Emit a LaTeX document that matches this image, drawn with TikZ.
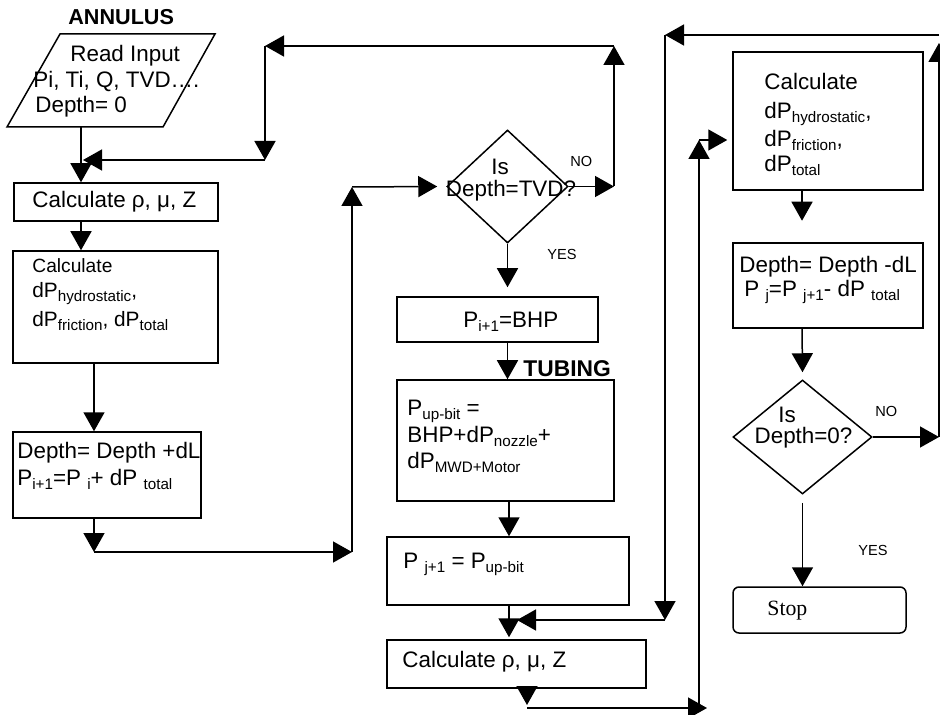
\documentclass[tikz,border=0pt]{standalone}
\usepackage{fontspec}
\setmainfont{Liberation Sans}
\newfontfamily\serifstop{Liberation Serif}
\usetikzlibrary{arrows.meta,shapes.geometric}
\newcommand\sbs[1]{\raisebox{-2pt}{\fontsize{7.6}{9}\selectfont #1}}
\begin{document}
\begin{tikzpicture}[x=0.5pt,y=-0.5pt,
  lw/.style={line width=0.75pt},
  box/.style={draw,lw,rectangle,inner sep=0pt},
  dia/.style={draw,lw,diamond,inner sep=0pt},
  arr/.style={lw,-{Triangle[width=10.5pt,length=9.5pt]}},
  txt/.style={inner sep=0pt,anchor=base west,font=\fontsize{11.2}{13.4}\selectfont},
  ctxt/.style={txt,anchor=base},
  lbl/.style={inner sep=0pt,anchor=base west,font=\fontsize{7.3}{9}\selectfont},
  hdr/.style={inner sep=0pt,anchor=base west,font=\bfseries\fontsize{10.8}{13}\selectfont}]
\useasboundingbox (0,0) rectangle (940,715);

% ---------- left column (annulus) ----------
\node[hdr] (annulus) at (68,25) {ANNULUS};
\coordinate (pa) at (60,34);
\coordinate (pb) at (215,34);
\coordinate (pc) at (163,127);
\coordinate (pd) at (7,127);
\draw[lw] (pa) -- (pb) -- (pc) -- (pd) -- cycle;
\coordinate (parb) at (81,127);
\node[txt] (in1) at (70,62) {Read Input};
\node[txt] (in2) at (33,88) {Pi, Ti, Q, TVD….};
\node[txt] (in3) at (35,113) {Depth= 0};

\node[box,minimum width=102pt,minimum height=19pt] (c1) at (116,202) {};
\node[txt] (c1t) at (32,208) {Calculate ρ, μ, Z};

\node[box,minimum width=102.5pt,minimum height=56pt] (c2) at (115.5,307) {};
\node[txt,font=\fontsize{9.6}{12}\selectfont] (c2a) at (32,273) {Calculate};
\node[txt,font=\fontsize{10.4}{12}\selectfont] (c2b) at (32,298) {dP\sbs{hydrostatic},};
\node[txt,font=\fontsize{10.4}{12}\selectfont] (c2c) at (32,327) {dP\sbs{friction}, dP\sbs{total}};

\node[box,minimum width=94pt,minimum height=43pt] (d1) at (107,475) {};
\node[txt] (d1a) at (17,458) {Depth= Depth +dL};
\node[txt] (d1b) at (17,485) {P\sbs{i+1}=P \sbs{i}+ dP \sbs{total}};

% ---------- middle column ----------
\node[dia,minimum width=60.5pt,minimum height=56.5pt] (q1) at (507.5,186.5) {};
\node[ctxt] (q1a) at (500,175) {Is};
\node[ctxt] (q1b) at (511,197) {Depth=TVD?};
\node[lbl] (no1) at (570,167) {NO};
\node[lbl] (yes1) at (547,260) {YES};

\node[box,minimum width=100.5pt,minimum height=22.5pt] (e1) at (497.5,319.5) {};
\node[txt] (e1t) at (463,328) {P\sbs{i+1}=BHP};
\node[hdr,font=\bfseries\fontsize{11.4}{13}\selectfont] (tubing) at (523,377) {TUBING};

\node[box,minimum width=108.5pt,minimum height=60.5pt] (f1) at (505.5,440.5) {};
\node[txt] (f1a) at (407,415) {P\sbs{up-bit} =};
\node[txt] (f1b) at (407,442) {BHP+dP\sbs{nozzle}+};
\node[txt] (f1c) at (407,468) {dP\sbs{MWD+Motor}};

\node[box,minimum width=121pt,minimum height=34pt] (g1) at (508,571) {};
\node[txt] (g1t) at (403,568) {P \sbs{j+1} = P\sbs{up-bit}};

\node[box,minimum width=129.5pt,minimum height=24pt] (h1) at (516.5,664) {};
\node[txt] (h1t) at (402,667) {Calculate ρ, μ, Z};

% ---------- right column ----------
\node[box,minimum width=95pt,minimum height=69pt] (k1) at (828,121) {};
\node[txt] (k1a) at (764,90) {Calculate};
\node[txt] (k1b) at (764,119) {dP\sbs{hydrostatic},};
\node[txt] (k1c) at (764,147) {dP\sbs{friction},};
\node[txt] (k1d) at (764,172) {dP\sbs{total}};

\node[box,minimum width=95pt,minimum height=42.5pt] (m1) at (828,285.5) {};
\node[txt] (m1a) at (739,273) {Depth= Depth -dL};
\node[txt] (m1b) at (744,297) {P \sbs{j}=P \sbs{j+1}- dP \sbs{total}};

\node[dia,minimum width=69.5pt,minimum height=57pt] (q2) at (802.5,437) {};
\node[ctxt] (q2a) at (787,422) {Is};
\node[ctxt] (q2b) at (803.5,443) {Depth=0?};
\node[lbl] (no2) at (875,416) {NO};
\node[lbl] (yes2) at (858,555) {YES};

\node[draw,lw,rectangle,rounded corners=3pt,minimum width=86.5pt,minimum height=23pt] (stop) at (819.5,610) {};
\node[inner sep=0pt,anchor=base west,font=\serifstop\fontsize{10.9}{13}\selectfont] (stopt) at (767,615) {Stop};

% ---------- connectors ----------
\draw[arr] (parb) -- (parb |- c1.north);
% NO loop of first decision
\coordinate (n1) at (614,186.5);
\coordinate (n2) at (614,46);
\coordinate (n3) at (265,46);
\coordinate (n4) at (265,160);
\coordinate (n5) at (83,160);
\draw[arr] (q1.east) -- (n1);
\draw[arr] (n1) -- (n2);
\draw[arr] (n2) -- (n3);
\draw[arr] (n3) -- (n4);
\draw[arr] (n4) -- (n5);

\draw[arr] (c1.south -| parb) -- (c2.north -| parb);
\coordinate (p1) at (94,552);
\coordinate (p2) at (352,552);
\coordinate (p3) at (352,187);
\draw[arr] (c2.south -| p1) -- (d1.north -| p1);
\draw[arr] (d1.south -| p1) -- (p1);
\draw[arr] (p1) -- (p2);
\draw[arr] (p2) -- (p3);
\draw[arr] (p3) -- ([xshift=-4.5pt]q1.west);

\draw[arr] (q1.south) -- ([yshift=4.5pt]q1.south |- e1.north);
\draw[arr] (e1.south -| q1.south) -- (f1.north -| q1.south);
\coordinate (gx) at (509,0);
\draw[arr] (f1.south -| gx) -- (g1.north -| gx);
\draw[arr] (g1.south -| gx) -- ([yshift=1pt]h1.north -| gx);

% tubing loop
\coordinate (r1) at (527,708);
\coordinate (r2) at (699,708);
\coordinate (r3) at (699,140);
\draw[arr] (h1.south -| r1) -- ([yshift=1.5pt]r1);
\draw[arr] (r1) -- ([xshift=4pt]r2);
\draw[arr] (r2) -- (r3);
\draw[arr] (r3) -- ([xshift=-2.5pt]r3 -| k1.west);

\coordinate (kx) at (802,0);
\draw[arr] (k1.south -| kx) -- ++(0,30);
\draw[arr] (m1.south -| kx) -- ([yshift=3.5pt]q2.north);
\draw[arr] ([yshift=-4pt]q2.south) -- (stop.north -| q2.south);

% NO loop of second decision
\coordinate (s1) at (939,437);
\coordinate (s2) at (939,35);
\coordinate (s3) at (665,35);
\coordinate (s4) at (665,620);
\draw[arr] (q2.east) -- (s1);
\draw[arr] (s1) -- ([yshift=-4pt]s2);
\draw[arr] (s2) -- (s3);
\draw[arr] (s3) -- (s4);
\draw[arr] (s4) -- ([xshift=4pt]s4 -| gx);
\end{tikzpicture}
\end{document}
